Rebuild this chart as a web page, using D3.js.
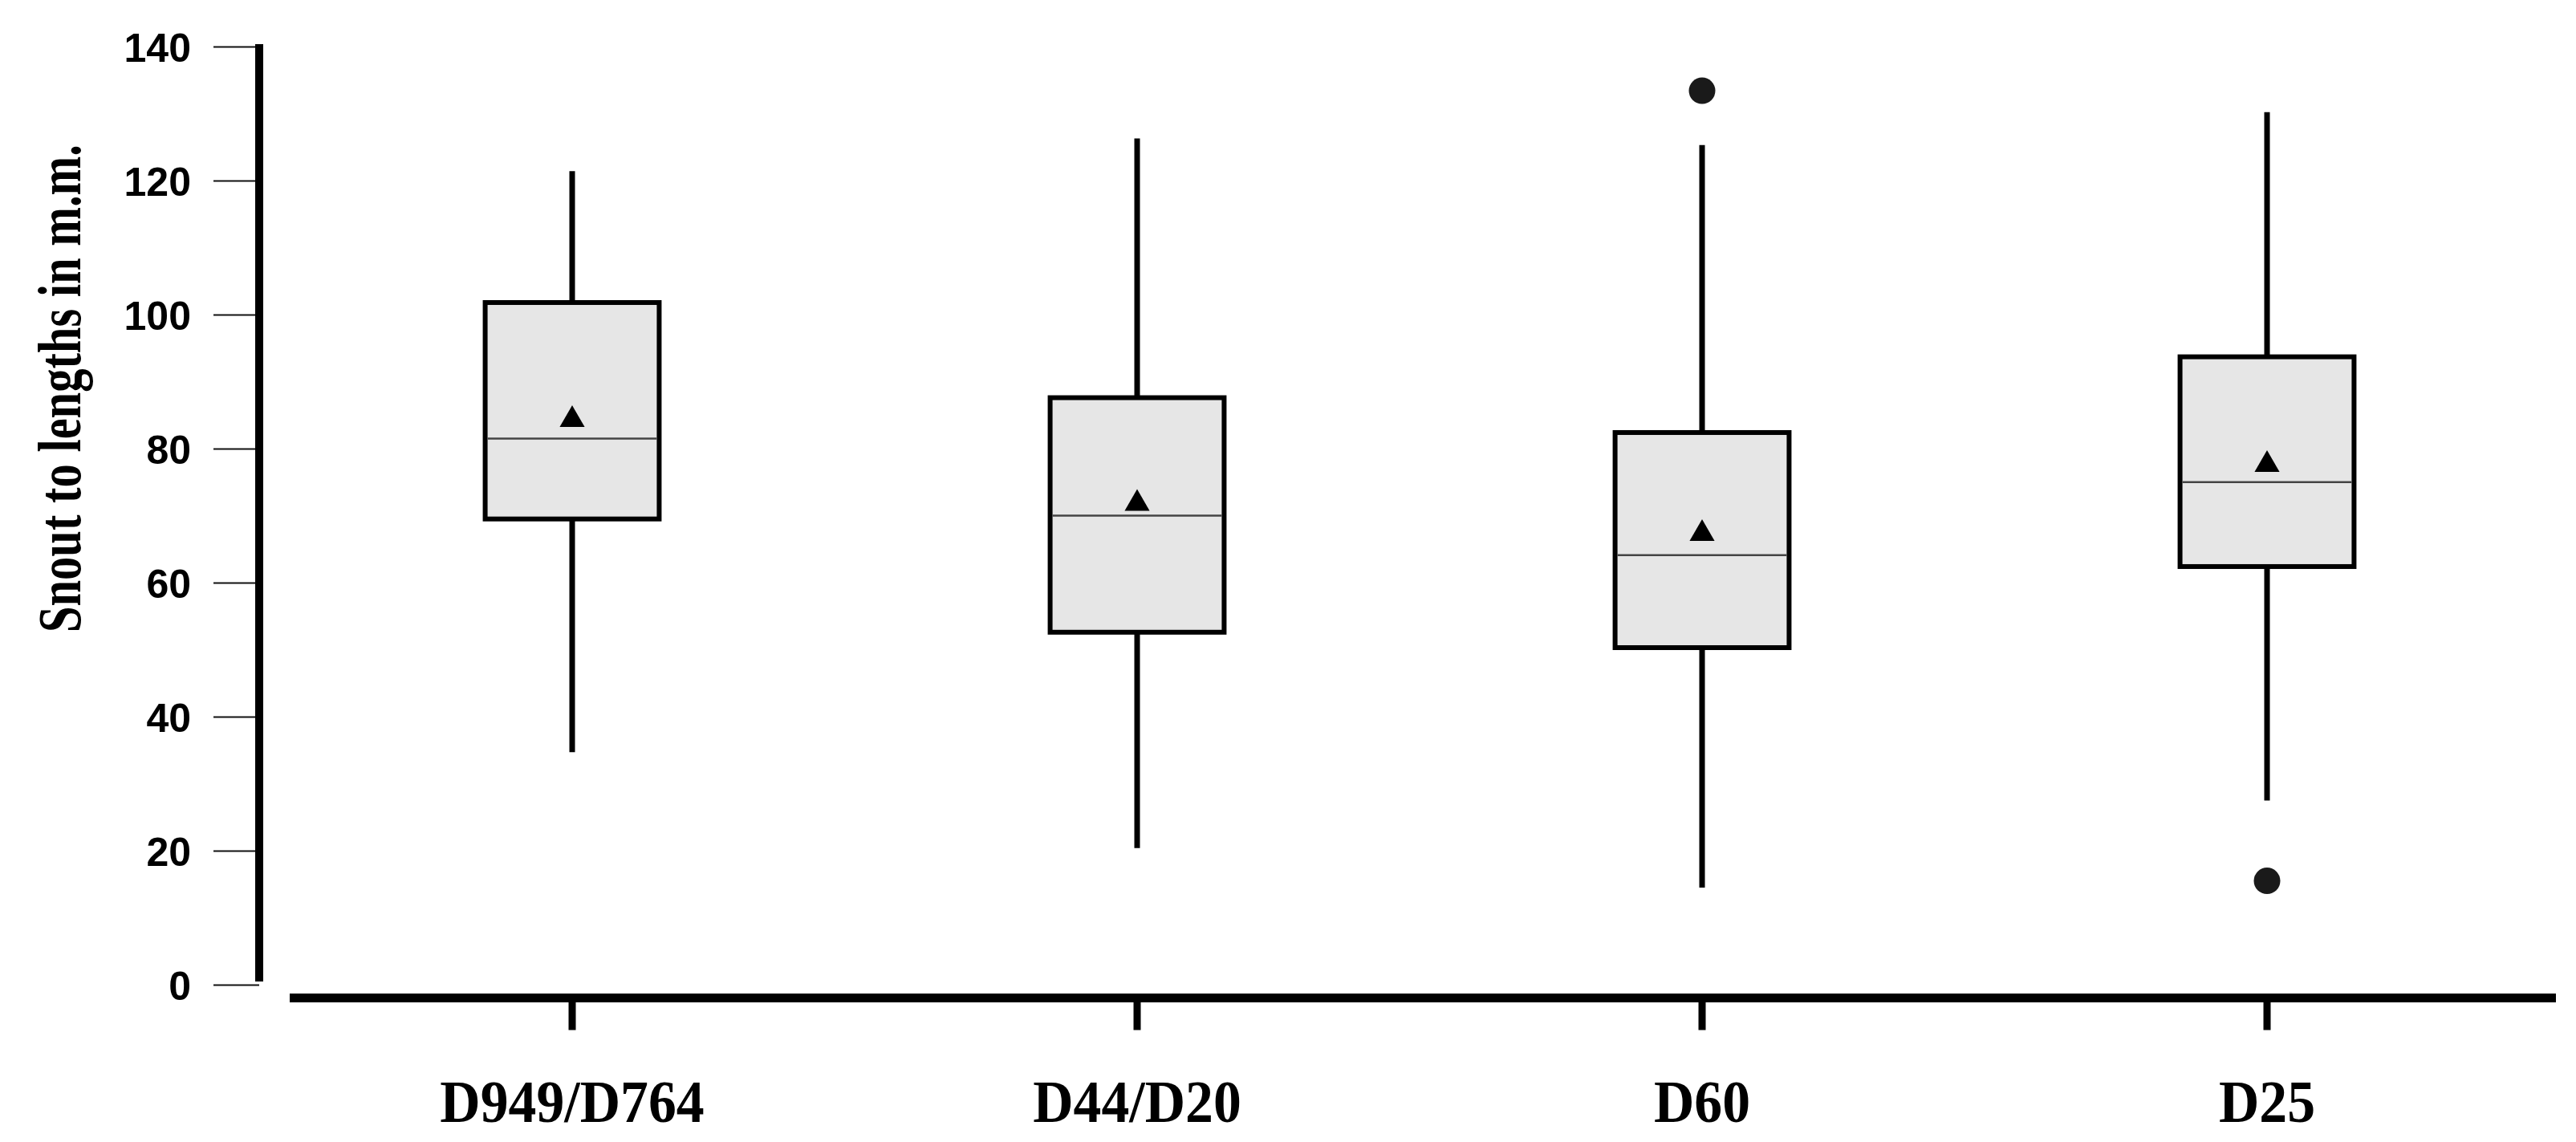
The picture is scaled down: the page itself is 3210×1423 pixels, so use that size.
<!DOCTYPE html>
<html>
<head>
<meta charset="utf-8">
<script src="https://cdn.jsdelivr.net/npm/d3@7"></script>
<style>
  html, body { margin: 0; padding: 0; background: #fff; }
  svg { display: block; }
</style>
</head>
<body>
<svg id="chart" width="3210" height="1423"></svg>
<script>
// ---- data ----
const categories = ["D949/D764", "D44/D20", "D60", "D25"];
const whiskerLow  = [34.7, 20.4, 14.5, 27.5];
const q1          = [69.5, 52.6, 50.3, 62.4];
const median      = [81.5, 70.0, 64.1, 75.0];
const q3          = [101.8, 87.6, 82.4, 93.7];
const whiskerHigh = [121.4, 126.3, 125.3, 130.2];
const means       = [84.3, 71.8, 67.3, 77.6];
const outliers    = [[], [], [133.4], [15.5]];
const yTicks      = [0, 20, 40, 60, 80, 100, 120, 140];
const yTitle      = "Snout to lengths in m.m.";

const data = categories.map((c, i) => ({
  cat: c, lo: whiskerLow[i], q1: q1[i], med: median[i], q3: q3[i],
  hi: whiskerHigh[i], mean: means[i], out: outliers[i]
}));

const svg = d3.select("#chart");

const y = d3.scaleLinear().domain([0, 140]).range([1227, 58]);
const x = d3.scaleBand().domain(categories).range([361, 3177]).padding(0);
const cx = c => x(c) + x.bandwidth() / 2;
const boxW = x.bandwidth() * 0.308;

// ---- Y axis ----
const yAxisX = 323;
const yAxis = d3.axisLeft(y).tickValues(yTicks).tickSize(57).tickPadding(28);
const gy = svg.append("g").attr("transform", `translate(${yAxisX},0)`).call(yAxis);
gy.select(".domain").remove();
gy.selectAll(".tick line").attr("stroke", "#111").attr("stroke-width", 2);
gy.selectAll(".tick text")
  .attr("font-family", "Liberation Sans, Arial, sans-serif")
  .attr("font-weight", "bold")
  .attr("font-size", 50)
  .attr("fill", "#000")
  .attr("dy", "0.36em");
svg.append("line")
  .attr("x1", yAxisX).attr("x2", yAxisX)
  .attr("y1", y(140) - 3).attr("y2", y(0) - 4)
  .attr("stroke", "#000").attr("stroke-width", 10);

// ---- X axis ----
const xAxisY = 1243.5;
svg.append("line")
  .attr("x1", 361).attr("x2", 3185)
  .attr("y1", xAxisY).attr("y2", xAxisY)
  .attr("stroke", "#000").attr("stroke-width", 11);
const xAxis = d3.axisBottom(x).tickSize(40).tickPadding(0);
const gx = svg.append("g").attr("transform", `translate(0,${xAxisY})`).call(xAxis);
gx.select(".domain").remove();
gx.selectAll(".tick line").attr("stroke", "#000").attr("stroke-width", 9);
gx.selectAll(".tick text")
  .attr("font-family", "Liberation Serif, 'Times New Roman', serif")
  .attr("font-weight", "bold")
  .attr("font-size", 75)
  .attr("fill", "#000")
  .attr("dy", null)
  .attr("y", 0)
  .attr("transform", "translate(0,154.5) scale(0.93,1)");

// ---- Y title (condensed along its length) ----
const title = svg.append("text")
  .attr("text-anchor", "middle")
  .attr("font-family", "Liberation Serif, 'Times New Roman', serif")
  .attr("font-weight", "bold")
  .attr("font-size", 76)
  .attr("fill", "#000")
  .text(yTitle);
const natural = title.node().getComputedTextLength();
const sx = 608 / natural;
title.attr("transform", `translate(100,484) rotate(-90) scale(${sx},1)`);

// ---- boxes ----
const g = svg.append("g");
const b = g.selectAll("g.box").data(data).join("g").attr("class", "box");

// whiskers
b.append("line")
  .attr("x1", d => cx(d.cat)).attr("x2", d => cx(d.cat))
  .attr("y1", d => y(d.hi)).attr("y2", d => y(d.q3))
  .attr("stroke", "#000").attr("stroke-width", 7);
b.append("line")
  .attr("x1", d => cx(d.cat)).attr("x2", d => cx(d.cat))
  .attr("y1", d => y(d.q1)).attr("y2", d => y(d.lo))
  .attr("stroke", "#000").attr("stroke-width", 7);

// box
b.append("rect")
  .attr("x", d => cx(d.cat) - boxW / 2)
  .attr("width", boxW)
  .attr("y", d => y(d.q3))
  .attr("height", d => y(d.q1) - y(d.q3))
  .attr("fill", "#e6e6e6")
  .attr("stroke", "#000")
  .attr("stroke-width", 6);

// median
b.append("line")
  .attr("x1", d => cx(d.cat) - boxW / 2 + 3).attr("x2", d => cx(d.cat) + boxW / 2 - 3)
  .attr("y1", d => y(d.med)).attr("y2", d => y(d.med))
  .attr("stroke", "#444").attr("stroke-width", 2.5);

// mean triangle
b.append("path")
  .attr("d", d3.symbol().type(d3.symbolTriangle).size(420))
  .attr("transform", d => `translate(${cx(d.cat)},${y(d.mean)})`)
  .attr("fill", "#000");

// outliers
b.selectAll("circle").data(d => d.out.map(v => ({cat: d.cat, v})))
  .join("circle")
  .attr("cx", d => cx(d.cat))
  .attr("cy", d => y(d.v))
  .attr("r", 16.5)
  .attr("fill", "#1a1a1a");
</script>
</body>
</html>
